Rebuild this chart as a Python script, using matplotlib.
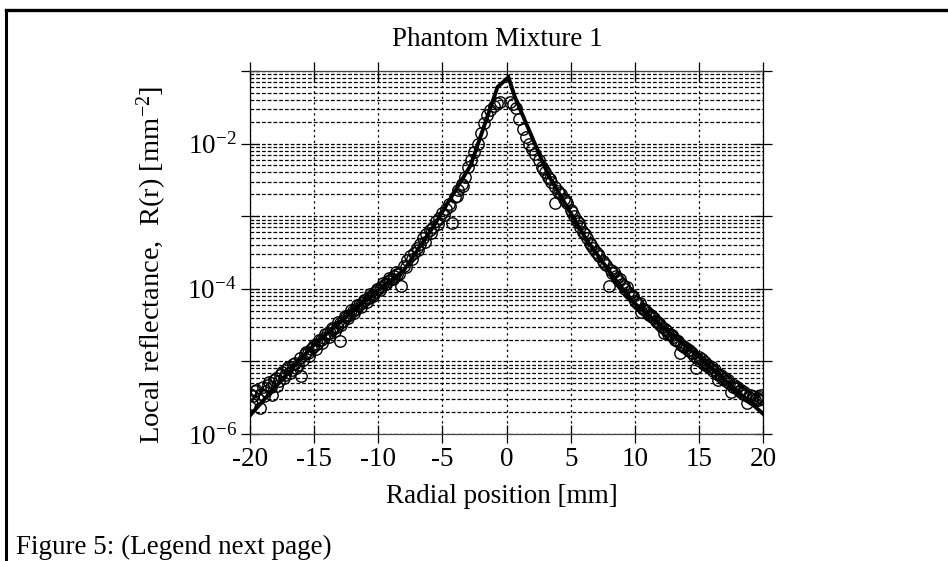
import matplotlib
matplotlib.use("Agg")
import matplotlib.pyplot as plt
from matplotlib.lines import Line2D
from matplotlib.ticker import FixedLocator, FuncFormatter, LogLocator, NullFormatter
import numpy as np

# ---------------------------------------------------------------------------
# Data
# ---------------------------------------------------------------------------
# measured reflectance, left of the source (main track)
x_left = [-20.0, -19.75, -19.5, -19.25, -19.0, -18.75, -18.5, -18.25, -18.0, -17.75,
          -17.5, -17.25, -17.0, -16.75, -16.5, -16.25, -16.0, -15.75, -15.5, -15.25,
          -15.0, -14.75, -14.5, -14.25, -14.0, -13.75, -13.5, -13.25, -13.0, -12.75,
          -12.5, -12.25, -12.0, -11.75, -11.5, -11.25, -11.0, -10.75, -10.5, -10.25,
          -10.0, -9.75, -9.5, -9.25, -9.0, -8.75, -8.5, -8.25, -8.0, -7.75,
          -7.5, -7.25, -7.0, -6.75, -6.5, -6.25, -6.0, -5.75, -5.5, -5.25,
          -5.0, -4.75, -4.5, -4.25, -4.0, -3.75, -3.5, -3.25, -3.0, -2.75,
          -2.5, -2.25, -2.0, -1.75, -1.5, -1.25, -1.0, -0.75, -0.5]
r_left = [3.6e-6, 3.3e-6, 4.1e-6, 2.3e-6, 4.4e-6, 3.9e-6, 5.2e-6, 3.4e-6, 6.0e-6, 5.4e-6,
          7.1e-6, 6.4e-6, 8.3e-6, 7.6e-6, 9.6e-6, 9.0e-6, 6.2e-6, 1.25e-5, 1.3e-5, 1.5e-5,
          1.7e-5, 1.75e-5, 1.95e-5, 2.1e-5, 2.4e-5, 2.5e-5, 2.8e-5, 3.0e-5, 1.9e-5, 3.6e-5,
          4.1e-5, 4.4e-5, 5.0e-5, 5.3e-5, 5.9e-5, 6.4e-5, 7.0e-5, 7.5e-5, 8.3e-5, 9.0e-5,
          1.0e-4, 1.07e-4, 1.17e-4, 1.27e-4, 1.36e-4, 1.5e-4, 1.6e-4, 1.1e-4, 2.05e-4, 2.5e-4,
          2.8e-4, 3.1e-4, 3.7e-4, 4.1e-4, 5.0e-4, 5.6e-4, 6.5e-4, 7.2e-4, 8.5e-4, 9.3e-4,
          1.1e-3, 1.25e-3, 1.45e-3, 8.1e-4, 1.85e-3, 2.3e-3, 2.8e-3, 3.5e-3, 4.7e-3, 6.0e-3,
          7.6e-3, 1.0e-2, 1.4e-2, 1.9e-2, 2.45e-2, 2.9e-2, 3.3e-2, 3.6e-2, 3.8e-2]

# overlapping repeat tracks on the left
x_left2 = [-19.875, -19.375, -18.875, -18.375, -17.875, -17.375, -16.875, -16.375,
           -15.875, -15.375, -14.875, -14.375, -13.875, -13.375, -13.0, -12.875, -12.375,
           -11.875, -11.375, -10.875, -10.375, -9.875, -9.375, -8.875, -8.375,
           -7.875, -7.375, -6.875, -6.375, -5.875, -5.375, -4.875, -4.375, -3.875, -3.375]
r_left2 = [2.6e-6, 3.0e-6, 3.3e-6, 4.4e-6, 4.6e-6, 5.9e-6, 7.0e-6, 8.2e-6,
           1.05e-5, 1.2e-5, 1.5e-5, 1.8e-5, 2.2e-5, 2.6e-5, 3.4e-5, 3.2e-5, 3.9e-5,
           4.6e-5, 5.6e-5, 6.6e-5, 8.0e-5, 9.6e-5, 1.15e-4, 1.35e-4, 1.6e-4,
           2.0e-4, 2.6e-4, 3.4e-4, 4.4e-4, 5.8e-4, 7.8e-4, 1.05e-3, 1.4e-3, 1.9e-3, 2.6e-3]
x_left3 = [-19.625, -19.125, -18.625, -18.125, -17.625, -17.125, -16.625, -16.125,
           -15.625, -15.125, -14.625, -14.125, -13.625, -13.125, -12.625, -12.125,
           -11.625, -11.125, -10.625, -10.125, -9.625, -9.125, -8.625]
r_left3 = [3.9e-6, 3.6e-6, 4.8e-6, 5.5e-6, 6.6e-6, 7.9e-6, 9.3e-6, 1.1e-5,
           1.35e-5, 1.6e-5, 2.0e-5, 2.4e-5, 2.9e-5, 3.5e-5, 4.2e-5, 5.1e-5,
           6.0e-5, 7.1e-5, 8.5e-5, 1.0e-4, 1.2e-4, 1.4e-4, 1.7e-4]

# measured reflectance, right of the source (main track)
x_right = [0.25, 0.5, 0.75, 1.0, 1.25, 1.5, 1.75, 2.0, 2.25, 2.5,
           2.75, 3.0, 3.25, 3.5, 3.75, 4.0, 4.25, 4.5, 4.75, 5.0,
           5.25, 5.5, 5.75, 6.0, 6.25, 6.5, 6.75, 7.0, 7.25, 7.5,
           7.75, 8.0, 8.25, 8.5, 8.75, 9.0, 9.25, 9.5, 9.75, 10.0,
           10.25, 10.5, 10.75, 11.0, 11.25, 11.5, 11.75, 12.0, 12.25, 12.5,
           12.75, 13.0, 13.25, 13.5, 13.75, 14.0, 14.25, 14.5, 14.75, 15.0,
           15.25, 15.5, 15.75, 16.0, 16.25, 16.5, 16.75, 17.0, 17.25, 17.5,
           17.75, 18.0, 18.25, 18.5, 18.75, 19.0, 19.25, 19.5, 19.75, 20.0]
r_right = [3.8e-2, 3.5e-2, 3.1e-2, 2.2e-2, 1.6e-2, 1.25e-2, 1.0e-2, 8.5e-3, 7.1e-3, 5.9e-3,
           4.8e-3, 4.0e-3, 3.5e-3, 3.0e-3, 1.5e-3, 2.2e-3, 2.0e-3, 1.7e-3, 1.5e-3, 1.2e-3,
           1.0e-3, 8.5e-4, 7.1e-4, 6.0e-4, 5.0e-4, 4.3e-4, 3.6e-4, 3.2e-4, 2.8e-4, 2.4e-4,
           2.1e-4, 1.1e-4, 1.65e-4, 1.5e-4, 1.3e-4, 1.15e-4, 1.0e-4, 9.0e-5, 7.9e-5, 6.8e-5,
           6.2e-5, 4.8e-5, 5.2e-5, 4.7e-5, 4.3e-5, 3.9e-5, 3.5e-5, 3.2e-5, 2.45e-5, 2.6e-5,
           2.4e-5, 2.2e-5, 2.0e-5, 1.3e-5, 1.65e-5, 1.55e-5, 1.45e-5, 1.3e-5, 8.1e-6, 1.15e-5,
           1.08e-5, 9.8e-6, 9.0e-6, 8.3e-6, 7.6e-6, 5.5e-6, 6.5e-6, 6.0e-6, 5.5e-6, 3.8e-6,
           4.8e-6, 4.5e-6, 4.1e-6, 3.8e-6, 2.7e-6, 3.4e-6, 3.3e-6, 3.1e-6, 3.2e-6, 3.0e-6]

# overlapping repeat tracks on the right
x_right2 = [2.875, 3.375, 3.75, 4.125, 4.625, 5.125, 5.625, 6.125, 6.625, 7.125,
            7.625, 8.125, 8.625, 9.125, 9.625, 10.125, 10.625, 11.125, 11.625, 12.125,
            12.625, 13.125, 13.625, 14.125, 14.625, 15.125, 15.625, 16.125, 16.625, 17.125,
            17.625, 18.125, 18.625, 19.125, 19.625, 19.875]
r_right2 = [4.5e-3, 3.3e-3, 2.5e-3, 2.1e-3, 1.6e-3, 1.15e-3, 8.0e-4, 5.6e-4, 4.0e-4, 3.0e-4,
            2.3e-4, 1.8e-4, 1.4e-4, 1.1e-4, 8.6e-5, 6.6e-5, 5.3e-5, 4.3e-5, 3.6e-5, 3.0e-5,
            2.4e-5, 2.0e-5, 1.7e-5, 1.45e-5, 1.2e-5, 1.0e-5, 8.6e-6, 7.3e-6, 6.2e-6, 5.3e-6,
            4.5e-6, 3.9e-6, 3.5e-6, 3.0e-6, 2.9e-6, 3.4e-6]
x_right3 = [8.375, 8.875, 9.375, 9.875, 10.375, 10.875, 11.375, 11.875, 12.375, 12.875,
            13.375, 13.875, 14.375, 14.875, 15.375, 15.875, 16.375, 16.875, 17.375, 17.875,
            18.375, 18.875, 19.375]
r_right3 = [1.7e-4, 1.35e-4, 1.05e-4, 8.0e-5, 6.3e-5, 5.0e-5, 4.1e-5, 3.4e-5, 2.8e-5, 2.3e-5,
            1.9e-5, 1.6e-5, 1.35e-5, 1.1e-5, 9.3e-6, 8.0e-6, 6.8e-6, 5.8e-6, 5.0e-6, 4.3e-6,
            3.7e-6, 3.2e-6, 2.9e-6]

# model fit (thick line)
x_fit = [-20, -18, -16, -15, -12.5, -10, -8, -5.7, -2.8, -0.7, 0.15,
         0.65, 3.25, 6.25, 8.85, 10, 12.5, 15, 17.5, 20]
r_fit = [1.8e-6, 4.5e-6, 1.1e-5, 1.7e-5, 4.1e-5, 9.6e-5, 1.8e-4, 7.2e-4, 5.0e-3, 6.0e-2, 8.2e-2,
         4.4e-2, 3.7e-3, 4.7e-4, 1.1e-4, 6.3e-5, 2.65e-5, 1.16e-5, 4.7e-6, 1.9e-6]

x_ticks = [-20, -15, -10, -5, 0, 5, 10, 15, 20]
x_tick_labels = ["-20", "-15", "-10", "-5", "0", "5", "10", "15", "20"]
labelled_decades = [-6, -4, -2]

# ---------------------------------------------------------------------------
plt.rcParams["font.family"] = ["Liberation Serif", "DejaVu Serif"]
plt.rcParams["mathtext.fontset"] = "custom"
plt.rcParams["mathtext.rm"] = "Liberation Serif"
plt.rcParams["mathtext.it"] = "Liberation Serif:italic"

W, H = 948, 561
fig = plt.figure(figsize=(W / 100, H / 100), dpi=100)
ax = fig.add_axes([250 / W, 1 - 434 / H, 513 / W, 363 / H])

circ = dict(ls="none", marker="o", ms=8.2, mfc="none", mec="black", mew=1.0, zorder=3)
for xs, rs in [(x_left, r_left), (x_left2, r_left2), (x_left3, r_left3),
               (x_right, r_right), (x_right2, r_right2), (x_right3, r_right3)]:
    ax.plot(xs, rs, **circ)
ax.plot(x_fit, r_fit, color="black", lw=2.8, solid_joinstyle="miter", zorder=4)

ax.set_yscale("log")
ax.set_xlim(-20, 20)
ax.set_ylim(1e-6, 1e-1)

ax.xaxis.set_major_locator(FixedLocator(x_ticks))
ax.set_xticklabels(x_tick_labels)
ax.yaxis.set_major_locator(LogLocator(base=10, numticks=12))
ax.yaxis.set_minor_locator(LogLocator(base=10, subs=np.arange(2, 10), numticks=12))
ax.yaxis.set_minor_formatter(NullFormatter())


def fmt_decade(val, _pos):
    e = int(round(np.log10(val)))
    if e in labelled_decades:
        return r"$\mathregular{10^{%d}}$" % e
    return ""


ax.yaxis.set_major_formatter(FuncFormatter(fmt_decade))

ax.tick_params(axis="both", which="major", direction="inout", length=13, width=0.9,
               top=True, right=True, labelsize=19.5, pad=3)
ax.tick_params(axis="y", which="minor", length=0, right=True)

ax.grid(True, which="major", axis="x", color="black", lw=0.9, ls=(0, (1.8, 2.6)))
ax.grid(True, which="both", axis="y", color="black", lw=0.9, ls=(0, (3, 1.6)))

for side in ["left", "right"]:
    ax.spines[side].set_linewidth(0.9)
for side in ["top", "bottom"]:
    ax.spines[side].set_linewidth(0.9)
    ax.spines[side].set_color("#444444")

ax.set_xlabel("Radial position [mm]", fontsize=19.5)
ax.xaxis.set_label_coords(0.491, -0.138)
ax.set_ylabel(r"Local reflectance,  R(r) [mm$^{-2}$]", fontsize=20.5)
ax.yaxis.set_label_coords(-0.158, 0.466)

fig.text(497 / W, 1 - 40 / H, "Phantom Mixture 1", ha="center", va="center", fontsize=19.5)
fig.text(16 / W, 1 - 554 / H, "Figure 5: (Legend next page)", ha="left", va="baseline",
         fontsize=19.5)

# page frame (top and left edges)
fig.add_artist(Line2D([6 / W, 1.0], [1 - 10 / H, 1 - 10 / H], transform=fig.transFigure,
                      color="black", lw=2.4))
fig.add_artist(Line2D([6 / W, 6 / W], [1 - 10 / H, 0.0], transform=fig.transFigure,
                      color="black", lw=2.2))

fig.savefig("out.png", dpi=100)
